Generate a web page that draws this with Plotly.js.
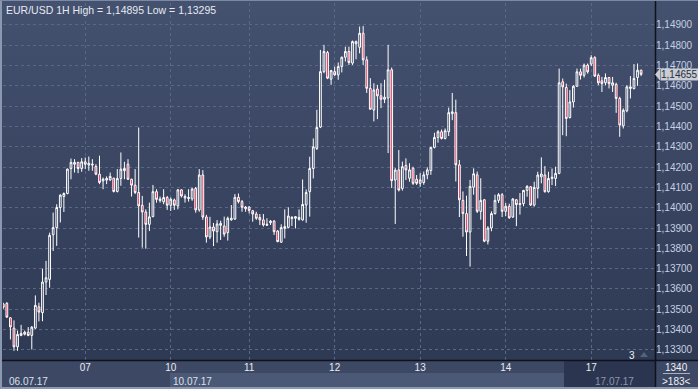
<!DOCTYPE html>
<html><head><meta charset="utf-8">
<script src="https://cdn.plot.ly/plotly-3.0.1.min.js"></script>
<style>
html,body{margin:0;padding:0;width:698px;height:389px;overflow:hidden;}
#wrap{position:relative;width:698px;height:389px;background:linear-gradient(to bottom,#44516f 0px,#2e3953 360px,#2e3953 389px);}
#chart{position:absolute;left:0;top:0;width:698px;height:389px;}
</style></head>
<body><div id="wrap"><div id="chart"></div></div>
<script>
const open = [
1.13525,1.13529,1.13458,1.13407,1.13315,1.13371,1.13377,1.13387,1.13371,1.13407,
1.13512,1.13483,1.13634,1.13647,1.13867,1.13902,1.14001,1.14055,1.14070,1.14193,
1.14214,1.14223,1.14193,1.14226,1.14210,1.14210,1.14203,1.14165,1.14132,1.14136,
1.14137,1.14145,1.14080,1.14144,1.14182,1.14214,1.14140,1.14111,1.14075,1.14012,
1.13979,1.13918,1.13956,1.14079,1.14035,1.14029,1.14050,1.14012,1.14038,1.14009,
1.14088,1.14048,1.14045,1.14043,1.14095,1.13989,1.14161,1.13954,1.13856,1.13905,
1.13882,1.13923,1.13910,1.13877,1.13940,1.13944,1.14051,1.14030,1.13995,1.14003,
1.13985,1.13969,1.13952,1.13940,1.13913,1.13926,1.13934,1.13885,1.13830,1.13898,
1.13903,1.13946,1.13948,1.13952,1.13940,1.14013,1.14079,1.14193,1.14292,1.14397,
1.14670,1.14764,1.14633,1.14670,1.14654,1.14695,1.14741,1.14769,1.14712,1.14818,
1.14790,1.14859,1.14728,1.14588,1.14481,1.14584,1.14551,1.14534,1.14540,1.14679,
1.14136,1.14186,1.14095,1.14208,1.14145,1.14194,1.14140,1.14120,1.14124,1.14162,
1.14183,1.14297,1.14346,1.14374,1.14341,1.14374,1.14463,1.14468,1.14211,1.14036,
1.13971,1.13880,1.14101,1.14162,1.13982,1.14039,1.13835,1.13900,1.13971,1.14036,
1.14064,1.13982,1.14007,1.13954,1.14039,1.14015,1.14020,1.14085,1.14103,1.14013,
1.14095,1.14152,1.14161,1.14079,1.14144,1.14144,1.14169,1.14620,1.14592,1.14444,
1.14521,1.14598,1.14669,1.14652,1.14702,1.14707,1.14739,1.14652,1.14625,1.14615,
1.14641,1.14603,1.14608,1.14538,1.14403,1.14477,1.14587,1.14587,1.14641,1.14677];
const high = [
1.13532,1.13535,1.13460,1.13445,1.13395,1.13423,1.13395,1.13412,1.13417,1.13568,
1.13532,1.13700,1.13738,1.13877,1.13976,1.14017,1.14066,1.14075,1.14193,1.14242,
1.14239,1.14226,1.14244,1.14247,1.14252,1.14239,1.14214,1.14256,1.14149,1.14154,
1.14173,1.14148,1.14190,1.14272,1.14226,1.14239,1.14143,1.14190,1.14395,1.14058,
1.13992,1.14025,1.14112,1.14091,1.14055,1.14091,1.14058,1.14050,1.14045,1.14091,
1.14091,1.14066,1.14091,1.14099,1.14102,1.14190,1.14185,1.13965,1.13955,1.13925,
1.13939,1.13936,1.13956,1.13956,1.14013,1.14067,1.14070,1.14038,1.14008,1.14008,
1.13989,1.13980,1.13969,1.13969,1.13948,1.13939,1.13939,1.13890,1.13918,1.13992,
1.14002,1.13959,1.13959,1.13992,1.14139,1.14090,1.14251,1.14341,1.14482,1.14777,
1.14802,1.14772,1.14679,1.14695,1.14715,1.14744,1.14793,1.14793,1.14823,1.14823,
1.14892,1.14895,1.14745,1.14638,1.14613,1.14605,1.14613,1.14630,1.14802,1.14690,
1.14195,1.14284,1.14227,1.14243,1.14219,1.14202,1.14161,1.14170,1.14178,1.14199,
1.14297,1.14369,1.14382,1.14385,1.14390,1.14493,1.14565,1.14532,1.14235,1.14080,
1.14059,1.14137,1.14194,1.14178,1.14145,1.14043,1.13909,1.13982,1.14064,1.14072,
1.14072,1.14023,1.14020,1.14047,1.14043,1.14072,1.14088,1.14111,1.14107,1.14128,
1.14177,1.14248,1.14205,1.14177,1.14193,1.14202,1.14685,1.14636,1.14611,1.14579,
1.14603,1.14685,1.14685,1.14710,1.14710,1.14751,1.14746,1.14661,1.14644,1.14661,
1.14644,1.14644,1.14615,1.14546,1.14489,1.14603,1.14648,1.14707,1.14710,1.14680];
const low = [
1.13502,1.13458,1.13351,1.13295,1.13295,1.13367,1.13371,1.13367,1.13302,1.13404,
1.13440,1.13441,1.13570,1.13606,1.13787,1.13812,1.13927,1.13979,1.14066,1.14140,
1.14173,1.14170,1.14177,1.14190,1.14182,1.14182,1.14160,1.14116,1.14091,1.14116,
1.14132,1.14075,1.14075,1.14108,1.14140,1.14137,1.14055,1.14067,1.13853,1.13803,
1.13798,1.13885,1.13953,1.14025,1.14025,1.14017,1.13989,1.13984,1.13989,1.13992,
1.14050,1.14025,1.14030,1.14034,1.13975,1.13980,1.13940,1.13828,1.13845,1.13811,
1.13828,1.13841,1.13857,1.13838,1.13936,1.13940,1.14021,1.13980,1.13980,1.13972,
1.13931,1.13940,1.13915,1.13907,1.13910,1.13915,1.13866,1.13830,1.13828,1.13849,
1.13898,1.13910,1.13898,1.13936,1.13936,1.13926,1.13956,1.14144,1.14284,1.14392,
1.14662,1.14633,1.14605,1.14650,1.14630,1.14666,1.14720,1.14703,1.14703,1.14731,
1.14760,1.14703,1.14565,1.14482,1.14425,1.14436,1.14490,1.14515,1.14269,1.14097,
1.13920,1.14080,1.14084,1.14136,1.14128,1.14112,1.14112,1.14103,1.14113,1.14140,
1.14162,1.14292,1.14320,1.14336,1.14336,1.14353,1.14431,1.14129,1.13954,1.13857,
1.13762,1.13710,1.14064,1.13974,1.13941,1.13830,1.13819,1.13884,1.13966,1.14023,
1.13954,1.13958,1.13945,1.13950,1.13909,1.13966,1.14007,1.14054,1.14008,1.14005,
1.14046,1.14120,1.14074,1.14074,1.14111,1.14107,1.14165,1.14357,1.14352,1.14439,
1.14493,1.14595,1.14631,1.14641,1.14660,1.14697,1.14644,1.14603,1.14570,1.14603,
1.14587,1.14570,1.14467,1.14349,1.14390,1.14470,1.14538,1.14582,1.14600,1.14648];
const close = [
1.13510,1.13461,1.13413,1.13315,1.13376,1.13381,1.13387,1.13371,1.13412,1.13519,
1.13486,1.13634,1.13655,1.13864,1.13902,1.14001,1.14062,1.14070,1.14190,1.14223,
1.14223,1.14193,1.14226,1.14214,1.14219,1.14214,1.14165,1.14124,1.14140,1.14144,
1.14154,1.14080,1.14144,1.14190,1.14193,1.14140,1.14111,1.14075,1.14009,1.13979,
1.13918,1.13955,1.14079,1.14041,1.14043,1.14050,1.14012,1.14042,1.14012,1.14088,
1.14058,1.14055,1.14050,1.14092,1.13989,1.14161,1.13954,1.13856,1.13905,1.13885,
1.13920,1.13913,1.13870,1.13948,1.13948,1.14051,1.14030,1.14002,1.14003,1.13987,
1.13969,1.13948,1.13940,1.13915,1.13918,1.13934,1.13882,1.13833,1.13902,1.13907,
1.13959,1.13952,1.13956,1.13943,1.14016,1.14075,1.14193,1.14300,1.14395,1.14670,
1.14769,1.14638,1.14675,1.14654,1.14695,1.14741,1.14769,1.14715,1.14818,1.14807,
1.14859,1.14728,1.14588,1.14485,1.14580,1.14551,1.14534,1.14544,1.14679,1.14133,
1.14185,1.14087,1.14202,1.14186,1.14186,1.14120,1.14120,1.14137,1.14162,1.14186,
1.14297,1.14346,1.14374,1.14341,1.14379,1.14468,1.14472,1.14211,1.14039,1.13971,
1.13880,1.14105,1.14167,1.13982,1.14036,1.13835,1.13900,1.13971,1.14036,1.14064,
1.13982,1.14007,1.13950,1.14043,1.14015,1.14020,1.14085,1.14105,1.14013,1.14100,
1.14161,1.14166,1.14079,1.14144,1.14150,1.14169,1.14615,1.14595,1.14439,1.14521,
1.14598,1.14669,1.14652,1.14702,1.14669,1.14739,1.14648,1.14615,1.14611,1.14641,
1.14611,1.14615,1.14538,1.14407,1.14480,1.14595,1.14595,1.14636,1.14677,1.14657];

const dayTickIdx = [23, 47, 69, 93, 117, 141, 165];
const dayLabels = ['07', '10', '11', '12', '13', '14', '17'];
const priceTicks = [1.133,1.134,1.135,1.136,1.137,1.138,1.139,1.140,1.141,1.142,1.143,1.144,1.145,1.146,1.147,1.148,1.149];
const priceTickText = priceTicks.map(v => v.toFixed(5).replace('.', ','));
const titleText = 'EUR/USD 1H High = 1,14895 Low = 1,13295';
const lastPrice = 1.14655;
const barCountText = '>183<';
const scaleText = '1340';

const idx = open.map((_, i) => i);

// pixel -> paper helpers (plot area: x 3..655, y 3..360)
const PX = x => (x - 3) / 652;
const PY = y => (360 - y) / 357;
const FONT = 'Liberation Sans, Arial, sans-serif';
const GRID = '#5a6886';

const shapes = [
  {type:'rect', xref:'paper', yref:'paper', x0:PX(0), x1:PX(698), y0:PY(389), y1:PY(360), fillcolor:'#3c4864', line:{width:0}, layer:'below'},
  {type:'rect', xref:'paper', yref:'paper', x0:PX(170), x1:PX(564), y0:PY(387), y1:PY(373), fillcolor:'#4b5876', line:{width:0}, layer:'below'},
  {type:'rect', xref:'paper', yref:'paper', x0:PX(564), x1:PX(655), y0:PY(389), y1:PY(361), fillcolor:'#2b3550', line:{width:0}, layer:'below'},
  {type:'line', xref:'paper', yref:'paper', x0:PX(0), x1:PX(698), y0:PY(360.5), y1:PY(360.5), line:{color:'#0e121a', width:1.5}},
  {type:'line', xref:'paper', yref:'paper', x0:PX(655.5), x1:PX(655.5), y0:PY(0), y1:PY(389), line:{color:'#0e121a', width:1.5}},
  {type:'line', xref:'paper', yref:'paper', x0:PX(0), x1:PX(698), y0:PY(388), y1:PY(388), line:{color:'#8a98b1', width:2}},
  {type:'line', xref:'paper', yref:'paper', x0:PX(1), x1:PX(1), y0:PY(0), y1:PY(389), line:{color:'#8a98b1', width:2}},
  {type:'line', xref:'paper', yref:'paper', x0:PX(0), x1:PX(698), y0:PY(0.5), y1:PY(0.5), line:{color:'#7c89a2', width:1}},
  {type:'line', xref:'paper', yref:'paper', x0:PX(663), x1:PX(690), y0:PY(373.5), y1:PY(373.5), line:{color:'#a8b1c2', width:1}},
  {type:'path', xref:'paper', yref:'paper', path:`M ${PX(655)} ${PY(74.5)} L ${PX(660)} ${PY(68.5)} L ${PX(660)} ${PY(80.5)} Z`, fillcolor:'#c9cdd5', line:{width:0}},
  {type:'path', xref:'paper', yref:'paper', path:`M ${PX(640)} ${PY(357)} L ${PX(644)} ${PY(352)} L ${PX(648)} ${PY(357)} Z`, fillcolor:'#56627c', line:{width:0}}
];

const ann = (text, x, y, opts) => Object.assign({text, xref:'paper', yref:'paper', x:PX(x), y:PY(y), showarrow:false, xanchor:'center', yanchor:'middle', font:{family:FONT, size:10, color:'#e8ecf4'}}, opts || {});

const annotations = [
  ann(titleText, 4, 9.5, {xanchor:'left', font:{family:FONT, size:10.5, color:'#e6eaf3'}}),
  ann('06.07.17', 28, 381, {font:{family:FONT, size:10, color:'#dbe1ec'}}),
  ann('10.07.17', 192, 381, {font:{family:FONT, size:10, color:'#dbe1ec'}}),
  ann('17.07.17', 614, 381, {font:{family:FONT, size:10, color:'#8c95aa'}}),
  ann(scaleText, 676.5, 367.5, {font:{family:FONT, size:10, color:'#f0f2f6'}}),
  ann(barCountText, 676.5, 381, {font:{family:FONT, size:10, color:'#f0f2f6'}}),
  ann('3', 631.5, 355.5, {font:{family:FONT, size:10, color:'#f0f2f6'}}),
  {text: lastPrice.toFixed(5).replace('.', ','), xref:'paper', yref:'y', x:PX(660), y:lastPrice, xanchor:'left', yanchor:'middle', showarrow:false,
   bgcolor:'#c9cdd5', borderpad:0, font:{family:FONT, size:10, color:'#2a2f3a'}}
];

const trace = {
  type:'candlestick', x: idx, open, high, low, close,
  increasing:{line:{color:'#ffffff', width:1}, fillcolor:'rgba(0,0,0,0)'},
  decreasing:{line:{color:'#ffffff', width:1}, fillcolor:'#e4173c'},
  whiskerwidth:0, hoverinfo:'skip'
};

const layout = {
  width:698, height:389,
  margin:{l:3, r:43, t:3, b:29, pad:0},
  paper_bgcolor:'rgba(0,0,0,0)', plot_bgcolor:'rgba(0,0,0,0)',
  showlegend:false, hovermode:false,
  xaxis:{range:[-0.08, 182.9], tickmode:'array', tickvals:dayTickIdx, ticktext:dayLabels,
         showgrid:true, gridcolor:GRID, griddash:'3px,3px', gridwidth:1, zeroline:false, showline:false, ticks:'',
         tickfont:{family:FONT, size:10, color:'#e8ecf4'}, rangeslider:{visible:false}, fixedrange:true},
  yaxis:{side:'right', range:[1.1325, 1.15008], tickmode:'array', tickvals:priceTicks, ticktext:priceTickText,
         showgrid:true, gridcolor:GRID, griddash:'3px,3px', gridwidth:1, zeroline:false, showline:false, ticks:'',
         tickfont:{family:FONT, size:10, color:'#c6d0e3'}, fixedrange:true},
  shapes, annotations
};

Plotly.newPlot('chart', [trace], layout, {displayModeBar:false, staticPlot:true});
</script>
</body></html>
